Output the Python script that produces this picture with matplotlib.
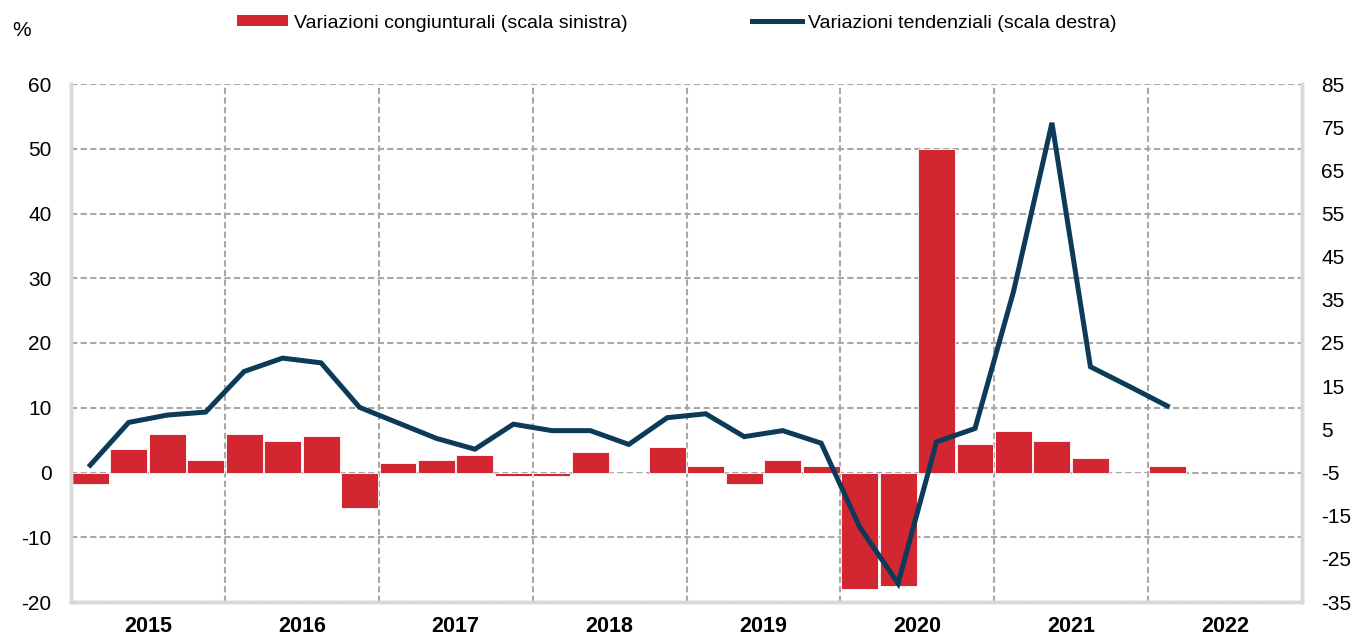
import matplotlib
matplotlib.use("Agg")
import matplotlib.pyplot as plt
from matplotlib.patches import Patch
from matplotlib.lines import Line2D
from matplotlib import font_manager as fm

names = {f.name for f in fm.fontManager.ttflist}
FONT = 'Liberation Sans Narrow' if 'Liberation Sans Narrow' in names else 'Liberation Sans'
plt.rcParams['font.family'] = [FONT, 'DejaVu Sans']

# ---- data ----
years = ['2015', '2016', '2017', '2018', '2019', '2020', '2021', '2022']
# quarterly values, 2015Q1 .. 2022Q1
congiunturali = [-1.8, 3.6, 6.0, 1.9,
                 6.0, 4.8, 5.6, -5.5,
                 1.5, 1.9, 2.7, -0.5,
                 -0.5, 3.1, 0.0, 3.9,
                 1.0, -1.8, 1.9, 1.0,
                 -18.0, -17.6, 49.9, 4.4,
                 6.4, 4.8, 2.3, 0.0,
                 1.0]
tendenziali = [-3.3, 6.6, 8.3, 9.0,
               18.4, 21.5, 20.4, 10.1,
               6.5, 2.9, 0.4, 6.2,
               4.7, 4.7, 1.5, 7.7,
               8.6, 3.3, 4.7, 1.8,
               -17.6, -30.7, 2.1, 5.2,
               36.9, 76.0, 19.5, 15.0,
               10.4]
left_ticks = [60, 50, 40, 30, 20, 10, 0, -10, -20]
right_ticks = [85, 75, 65, 55, 45, 35, 25, 15, 5, -5, -15, -25, -35]
label_bar = 'Variazioni congiunturali (scala sinistra)'
label_line = 'Variazioni tendenziali (scala destra)'

RED = '#d22630'
NAVY = '#0c3b5a'
GRID = '#a8a8a8'
FRAME = '#d9d9d9'

W, H = 1354, 637
fig = plt.figure(figsize=(W / 100, H / 100), dpi=100)
ax = fig.add_axes([71 / W, 1 - 602 / H, (1302 - 71) / W, (602 - 84) / H])
ax2 = ax.twinx()

n_q = len(years) * 4
xs = list(range(len(congiunturali)))
xl = list(range(len(tendenziali)))

ax.set_xlim(-0.5, n_q - 0.5)
ax.set_ylim(-20, 60)
ax2.set_ylim(-35, 85)

# grid
for y in left_ticks:
    ax.axhline(y, color=GRID, lw=1.5, ls=(0, (3, 1.6)), zorder=0)
for k in range(1, len(years)):
    ax.axvline(4 * k - 0.5, color=GRID, lw=1.5, ls=(0, (3, 1.6)), zorder=0)

ax.bar(xs, congiunturali, width=0.96, color=RED, edgecolor='white', lw=0.6, zorder=2)
ax2.plot(xl, tendenziali, color=NAVY, lw=3.6, solid_joinstyle='miter', zorder=3)

ax.set_yticks(left_ticks)
ax.set_yticklabels([str(v) for v in left_ticks], fontsize=15)
ax2.set_yticks(right_ticks)
ax2.set_yticklabels([str(v) for v in right_ticks], fontsize=15)
ax.set_xticks([4 * i + 1.5 for i in range(len(years))])
ax.set_xticklabels(years, fontsize=15.5, fontweight='bold')
ax.tick_params(axis='y', length=0, pad=14)
ax2.tick_params(axis='y', length=0, pad=14)
ax.tick_params(axis='x', length=0, pad=10)

for a in (ax, ax2):
    a.spines['top'].set_visible(False)
    for s in ('left', 'bottom', 'right'):
        a.spines[s].set_color(FRAME)
        a.spines[s].set_linewidth(2.5)
ax.set_zorder(ax2.get_zorder() - 1)
ax2.patch.set_visible(False)
ax.patch.set_visible(True)

fig.text(12 / W, 1 - 31 / H, '%', fontsize=15, va='center', ha='left')

handles = [Patch(facecolor=RED, edgecolor='none', label=label_bar),
           Line2D([0], [0], color=NAVY, lw=3.6, label=label_line)]
fig.legend(handles=handles, ncol=2, loc='center', bbox_to_anchor=(677 / W, 1 - 23 / H),
           frameon=False, fontsize=14, handlelength=2.6, handleheight=0.55,
           handletextpad=0.3, columnspacing=6.4)

fig.savefig('out.png', dpi=100)
